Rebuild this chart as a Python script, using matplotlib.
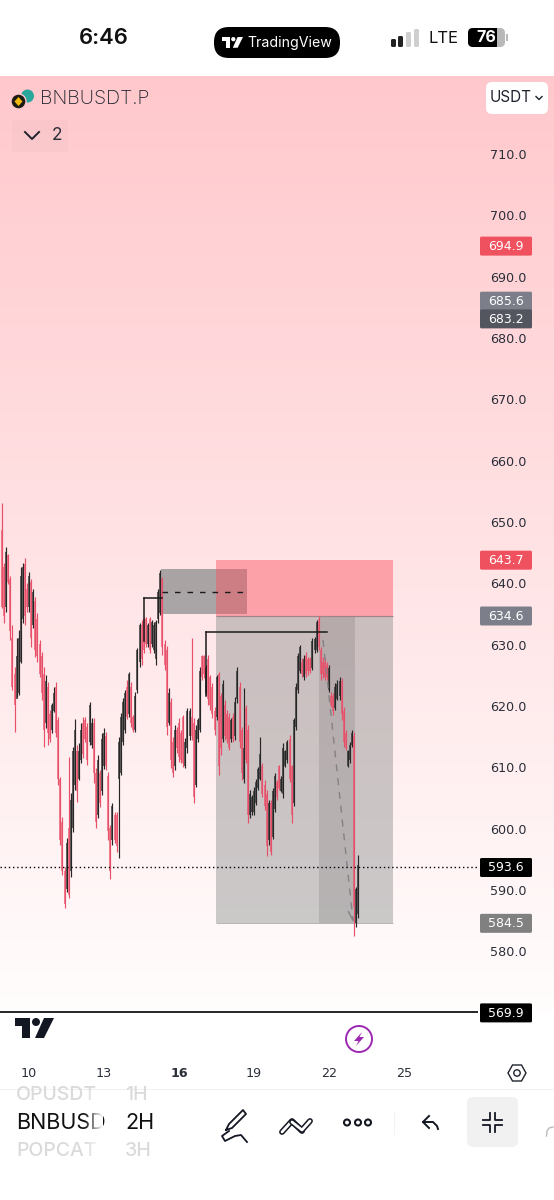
import numpy as np
import matplotlib
matplotlib.use("Agg")
import matplotlib.pyplot as plt
from matplotlib.patches import Circle, FancyBboxPatch, Polygon, Rectangle
from matplotlib.transforms import ScaledTranslation

plt.rcParams["font.family"] = ["Inter", "DejaVu Sans"]

# 2H bars
highs = [652.9, 643.1, 645.7, 644.7, 641, 633, 626.2, 630.9, 632.2, 642.5,
         643.1, 643.9, 639.9, 641.7, 640.5, 639, 637.6, 635, 630.6, 628.6,
         626.2, 624.9, 623.7, 619.2, 620.3, 622.9, 623.7, 618, 608.2, 601.7,
         593.6, 598.3, 611.5, 605.6, 613.1, 617.7, 613.5, 613.8, 617.1, 618,
         618, 617.1, 620.5, 617.9, 617.9, 609.7, 611.8, 609.4, 615.4, 616.2,
         615.6, 609.1, 600.4, 604, 602.5, 602.5, 614.8, 618.7, 621.1, 622.4,
         624.1, 625.4, 623.7, 618.4, 622.1, 629.3, 633.3, 633.8, 634.3, 634.3,
         633.3, 634.3, 633.8, 633.5, 633.8, 639, 642, 640.8, 630.6, 629.6,
         622.8, 621.1, 614.8, 616.7, 616.4, 617.9, 615.9, 618.4, 614.6, 619.5,
         619.5, 630.9, 617.9, 616.7, 617.9, 626.2, 628.1, 628.1, 626.5, 628.1,
         624.9, 623.6, 619.7, 624.9, 625.4, 622, 624.1, 620.8, 619.2, 618.7,
         617.9, 618.7, 621.3, 626.2, 623.7, 616.4, 622.8, 620, 616.7, 606.1,
         605.3, 606.6, 607.9, 609.9, 614.8, 610.5, 607.8, 606.1, 604.5, 604.5,
         606.5, 608.9, 607.8, 610.2, 608.4, 613.8, 612.7, 614.3, 615.1, 610.2,
         617.9, 623.6, 628.5, 629.8, 627.6, 628.1, 628.6, 627.8, 627.8, 630.9,
         631.1, 633.8, 634.6, 629.4, 627.8, 627.6, 627, 626.5, 622.1, 622,
         623.6, 624.1, 624.6, 624.4, 619.7, 615.9, 612.7, 614, 615.9, 615.6,
         590.3, 595.5]
lows = [635.8, 633.3, 635.1, 639.8, 630.6, 622.4, 615.6, 621.3, 621.6, 626.8,
        633.3, 633, 635.1, 635.1, 629.4, 632.5, 627.8, 627, 624.5, 620.8,
        613.1, 616.2, 613.5, 614, 615.4, 618.8, 614.8, 606.9, 597.2, 592.3,
        586.9, 589.5, 588.5, 592, 599.3, 606.1, 604.2, 607.8, 610.5, 611.3,
        614, 610.2, 613.5, 613, 607.3, 599.9, 601.6, 603.4, 605.3, 609.6,
        609.4, 598, 591.6, 597.2, 597.5, 596, 595, 608.6, 613.5, 615.4,
        617.7, 618, 616.4, 615.6, 615.6, 621.9, 626.2, 626.5, 628.5, 629.4,
        629.4, 628.5, 629.4, 628.5, 626.5, 633.3, 634.7, 628.1, 625.7, 615.1,
        616.7, 609.7, 608.2, 609.4, 612.2, 610.7, 610.5, 609.9, 609.7, 612.2,
        614.3, 614.3, 604, 606.6, 614, 615.6, 624.1, 624.4, 621.6, 620,
        619.2, 617.9, 615.1, 617.5, 608.6, 611.8, 614, 614.3, 613.8, 612.7,
        614, 614, 614.3, 620.3, 613, 607.8, 607.3, 610.5, 600.8, 601.6,
        602, 602, 603.7, 606.1, 607.8, 605, 602.9, 595.4, 597.2, 595.5,
        598.1, 602.5, 604.5, 606.1, 605.8, 604.8, 609.9, 610.5, 607.4, 600.8,
        603.5, 615.9, 621.9, 625.2, 624.5, 624.1, 624.5, 624.9, 625.2, 625.7,
        628.5, 628.6, 629, 624.1, 624.4, 624.1, 624.1, 622.1, 619.7, 618.4,
        619.2, 620.8, 620.8, 617.5, 613.1, 612.7, 609.9, 610.5, 613.1, 582.3,
        583.9, 585.3]
opens = [648.5, 642.5, 636, 644.5, 640.5, 631, 625, 621, 622, 627,
         634, 643, 639, 636, 640, 633, 637, 634, 630, 628,
         625, 617, 623, 618.5, 616, 619, 623, 617.5, 608, 601,
         593, 590, 600, 593, 600, 607, 612.5, 608, 611, 617,
         617.5, 616.5, 614, 613.5, 617, 609, 602, 609, 606, 610,
         615, 608.5, 600, 598, 602, 602, 608, 609, 614, 616,
         623, 618.5, 623, 618, 616, 622.5, 627, 633, 634, 634,
         630, 634, 630, 629, 627.5, 634, 635, 640.5, 630, 629,
         617, 620.5, 614, 610, 616, 617, 615.5, 618, 610, 613,
         615, 618, 617, 607, 614.5, 616, 628, 628, 622, 627.5,
         624.5, 623, 619, 618, 625, 621.5, 614.5, 620, 618.5, 618,
         614.5, 618, 615, 621, 623, 616, 608, 619.5, 616, 602,
         602.5, 602.5, 604, 606.5, 608, 610, 607, 605.5, 598, 604,
         598.5, 603, 607.5, 610, 606, 605.5, 610, 611, 614.5, 610,
         604, 616.5, 622.5, 625.5, 627, 624.5, 628, 627.5, 627.5, 626,
         629, 629, 634, 629, 627, 627, 626.5, 622.5, 621.5, 621.5,
         619.5, 621, 621.5, 624, 619, 615.5, 610, 611, 613.5, 615,
         584.5, 586]
closes = [636, 634.5, 645, 640, 632, 623, 620, 628, 631, 641,
          642.5, 634.5, 636, 641, 631, 638.5, 629, 628, 625, 622,
          616, 624, 615.5, 614.5, 620, 622, 615.5, 608, 598, 593,
          587.5, 597.5, 589, 604.5, 612.5, 616, 606, 612.5, 616, 612,
          614.5, 611, 620, 617, 609, 601, 611, 604, 614.5, 615.5,
          610, 599.5, 593, 603.5, 598, 597, 614, 618, 620.5, 622,
          618, 625, 617, 616, 621.5, 629, 633, 627.5, 629, 630,
          633, 629, 633.5, 633, 633.5, 638.5, 641.5, 629.5, 626.5, 616.5,
          622, 611, 609, 616, 613, 611.5, 611, 610.5, 614, 619,
          619, 615, 605, 616, 617.5, 625.5, 624.5, 625, 626, 621,
          620, 618.5, 616, 624.5, 610, 613, 623.5, 615, 614.5, 613,
          617.5, 614.5, 620.5, 625.5, 614, 609, 613, 611, 602, 605.5,
          605, 606, 607.5, 609.5, 612, 605.5, 603.5, 597, 604, 596,
          606, 608.5, 605, 606.5, 608, 613, 612.5, 614, 608, 602,
          617.5, 623, 628, 629.5, 625, 627.5, 625, 625.5, 625.5, 630.5,
          630.8, 633.5, 629.5, 625, 625, 624.5, 624.5, 626, 620, 619,
          623, 623.5, 624, 618.5, 614, 613, 612.5, 613.5, 615.5, 587,
          590, 594]

price_ticks = [710, 700, 690, 680, 670, 660, 650, 640, 630, 620, 610, 600, 590, 580]
date_ticks = [10, 13, 16, 19, 22, 25]

# labels on the price scale: value, colour, nudge in px where two would collide
price_tags = [(694.9, "#F0515F", 0), (685.6, "#7C7F8A", -2), (683.2, "#54565F", 1),
              (643.7, "#F0515F", 0), (634.6, "#7C7F8A", 0), (593.6, "#000000", 0),
              (584.5, "#808080", 0), (569.9, "#000000", 0)]

first_bar_day = 8.92
ask_top, entry, stop = 643.7, 634.6, 584.5


def main():
    fig = plt.figure(figsize=(5.54, 12), dpi=100, facecolor="white")
    ax = fig.add_axes([0, 1 - 1013 / 1200, 1, (1013 - 76) / 1200])
    ui = fig.add_axes([0, 0, 1, 1], zorder=5)
    ui.set_xlim(0, 554)
    ui.set_ylim(1200, 0)
    ui.axis("off")

    draw_chart(ax)
    draw_tags(ax, ui)
    draw_chrome(ui)
    fig.savefig("out.png", dpi=100)


def draw_chart(ax):
    day_lo, day_hi = 8.84, 31.0
    scale_edge = 27.96
    price_lo, price_hi = 569.8, 722.55

    shade = np.linspace(0, 1, 256)
    grad = np.zeros((256, 1, 3))
    grad[:, 0, 0] = 1.0
    grad[:, 0, 1] = (200 + 53 * shade) / 255
    grad[:, 0, 2] = (204 + 49 * shade) / 255
    ax.imshow(grad, extent=(day_lo, day_hi, price_lo, price_hi), aspect="auto", zorder=0)

    # position boxes, grey one goes under the red one
    ax.add_patch(Rectangle((15.28, 634.8), 3.44, 7.4, fc=(85 / 255, 100 / 255, 100 / 255), alpha=0.5, lw=0, zorder=1))
    ax.add_patch(Rectangle((17.48, stop), 7.08, entry - stop, fc=(125 / 255, 130 / 255, 130 / 255), alpha=0.4, lw=0, zorder=1))
    ax.add_patch(Rectangle((21.6, stop), 1.44, entry - stop, fc="black", alpha=0.1, lw=0, zorder=1))
    ax.add_patch(Rectangle((17.48, entry), 7.08, ask_top - entry, fc=(251 / 255, 80 / 255, 95 / 255), alpha=0.45, lw=0, zorder=1))
    ax.hlines(entry, 17.48, 24.56, color="#A08488", lw=0.9, zorder=1)
    ax.hlines(stop, 17.48, 24.56, color="#B8B2B2", lw=0.7, zorder=1)

    days = first_bar_day + np.arange(len(highs)) / 12
    colors = ["#E8506A" if c < o else "#262626" for o, c in zip(opens, closes)]
    ax.vlines(days, lows, highs, colors=colors, lw=0.85, zorder=2)
    ax.vlines(days, opens, closes, colors=colors, lw=1.25, alpha=0.8, zorder=2)

    # hand drawn levels
    ax.plot([14.6, 15.32], [637.45, 637.45], color="#1A1A1A", lw=1.1, zorder=3)
    ax.plot([14.6, 14.6], [637.45, 630.4], color="#1A1A1A", lw=1.1, zorder=3)
    ax.plot([15.32, 18.68], [638.4, 638.4], color="#1A1A1A", lw=1, ls=(0, (4, 5)), zorder=3)
    ax.plot([17.08, 21.92], [631.9, 631.9], color="#1A1A1A", lw=1.1, zorder=3)
    ax.plot([17.08, 17.08], [631.9, 621.4], color="#1A1A1A", lw=1.1, zorder=3)
    ax.plot([21.76, 22.96], [630.6, 584.9], color="#858085", lw=1, ls=(0, (5, 5)), zorder=3)
    ax.plot([22.78, 22.96], [586.3, 584.9], color="#858085", lw=1, zorder=3)

    ax.hlines(593.6, day_lo, scale_edge, color="black", lw=1, ls=(0, (1, 2)), zorder=3)
    ax.hlines(569.9, day_lo, scale_edge, color="black", lw=1.2, zorder=3, clip_on=False)

    ax.set_xlim(day_lo, day_hi)
    ax.set_ylim(price_lo, price_hi)
    for side in ax.spines.values():
        side.set_visible(False)

    ax.yaxis.tick_right()
    ax.set_yticks(price_ticks)
    ax.set_yticklabels(["%.1f" % p for p in price_ticks], family="DejaVu Sans")
    ax.tick_params(axis="y", length=0, pad=-46, labelsize=9.2, labelcolor="#2A2E39")
    ax.set_xticks(date_ticks)
    ax.set_xticklabels([str(d) for d in date_ticks], family="DejaVu Sans")
    ax.tick_params(axis="x", length=0, pad=39, labelsize=9.2, labelcolor="#2A2E39")
    down = ScaledTranslation(0, -0.75 / 72, ax.figure.dpi_scale_trans)
    for label in ax.get_yticklabels():
        label.set_transform(label.get_transform() + down)
    for label in ax.get_xticklabels():
        if label.get_text() == "16":
            label.set_fontweight("bold")


def draw_tags(ax, ui):
    fig_h = ax.figure.bbox.height
    for price, color, nudge in price_tags:
        y = fig_h - ax.transData.transform((10, price))[1] + 0.5 + nudge
        ui.add_patch(FancyBboxPatch((480, y - 9.5), 52, 19, boxstyle="round,pad=0,rounding_size=1.5", fc=color, lw=0))
        ui.text(506, y + 0.3, "%.1f" % price, color="white", fontsize=9, family="DejaVu Sans", ha="center", va="center")


def tv_logo(ui, x, y, w, color):
    k = w / 39
    ui.add_patch(Polygon([(x, y), (x + 15 * k, y), (x + 15 * k, y + 20 * k), (x + 7 * k, y + 20 * k),
                          (x + 7 * k, y + 8 * k), (x, y + 8 * k)], fc=color, lw=0))
    ui.add_patch(Circle((x + 21 * k, y + 4 * k), 4 * k, fc=color, lw=0))
    ui.add_patch(Polygon([(x + 29 * k, y), (x + 39 * k, y), (x + 29 * k, y + 20 * k), (x + 20 * k, y + 20 * k)], fc=color, lw=0))


def fade_right(ui, x0, x1, y0, y1):
    grad = np.ones((1, 32, 4))
    grad[0, :, 3] = np.linspace(0, 1, 32)
    ui.imshow(grad, extent=(x0, x1, y1, y0), aspect="auto", zorder=6)


def draw_chrome(ui):
    # status bar
    ui.text(104, 38, "6:46", fontsize=15.8, fontweight="semibold", color="#111111", ha="center", va="center")
    ui.add_patch(FancyBboxPatch((214, 27), 126, 31, boxstyle="round,pad=0,rounding_size=15", fc="black", lw=0))
    tv_logo(ui, 222, 37, 21, "white")
    ui.text(247, 42.5, "TradingView", fontsize=10.2, color="white", va="center")

    for x, top, col in [(391, 39, "#222222"), (398, 36, "#222222"), (406, 32, "#CFCFCF"), (414, 29, "#CFCFCF")]:
        ui.add_patch(FancyBboxPatch((x, top), 5, 47 - top, boxstyle="round,pad=0,rounding_size=1.5", fc=col, lw=0))
    ui.text(429, 38.5, "LTE", fontsize=12, color="#111111", va="center")
    ui.add_patch(FancyBboxPatch((468, 28), 37, 19, boxstyle="round,pad=0,rounding_size=5", fc="#B8B8B8", lw=0))
    ui.add_patch(FancyBboxPatch((468, 28), 29, 19, boxstyle="round,pad=0,rounding_size=5", fc="black", lw=0))
    ui.add_patch(Rectangle((492, 28), 5, 19, fc="black", lw=0))
    ui.add_patch(Rectangle((506, 34), 1.8, 7, fc="#B8B8B8", lw=0))
    ui.text(486, 37.5, "76", fontsize=11.5, fontweight="bold", color="white", ha="center", va="center")

    # symbol header
    ui.add_patch(Circle((27.5, 96), 6.5, fc="#2AA79B", lw=0))
    ui.add_patch(Circle((18.5, 101.5), 7.5, fc="#1E1A14", ec="#FFC8CC", lw=1))
    ui.add_patch(Polygon([(18.5, 97), (22.5, 101.5), (18.5, 106), (14.5, 101.5)], fc="#F0B90B", lw=0))
    ui.text(40, 98.5, "BNBUSDT.P", fontsize=14, fontweight="light", color="#1E222D", va="center")
    ui.add_patch(FancyBboxPatch((486, 82), 62, 32, boxstyle="round,pad=0,rounding_size=6", fc="white", lw=0))
    ui.text(490, 98, "USDT", fontsize=11, color="#1E222D", va="center")
    ui.plot([536, 539, 542], [96.5, 99.5, 96.5], color="#1E222D", lw=1)
    ui.add_patch(Rectangle((12, 120), 56, 32, fc="#B09098", alpha=0.06, lw=0))
    ui.plot([25, 32, 39], [132, 139, 132], color="#1E222D", lw=1.4)
    ui.text(57, 135.5, "2", fontsize=12.5, color="#2A2E39", ha="center", va="center")

    # chart footer
    tv_logo(ui, 15, 1018, 39, "#131722")
    ui.add_patch(Circle((359, 1039), 13, fc="none", ec="#9C27B0", lw=1.4))
    ui.add_patch(Polygon([(362, 1032), (354, 1041), (358.5, 1041), (356, 1046), (364, 1037), (359.5, 1037)], fc="#9C27B0", lw=0))
    ui.add_patch(Polygon([(508, 1073), (512.5, 1065), (521.5, 1065), (526, 1073), (521.5, 1081), (512.5, 1081)], fc="none", ec="#1E222D", lw=1))
    ui.add_patch(Circle((517, 1073), 3.2, fc="none", ec="#1E222D", lw=1))
    ui.plot([0, 554], [1089, 1089], color="#F0F0F0", lw=0.8)

    # symbol and interval pickers
    ui.text(16, 1095, "OPUSDT", fontsize=14, color="#DADADA", va="center", fontweight="medium")
    ui.text(16, 1123, "BNBUSD", fontsize=15.5, color="#111111", va="center")
    ui.text(16, 1151, "POPCAT", fontsize=14, color="#DADADA", va="center", fontweight="medium")
    fade_right(ui, 84, 103, 1090, 1162)
    ui.text(125, 1095, "1H", fontsize=14, color="#DADADA", va="center", fontweight="medium")
    ui.text(125, 1123, "2H", fontsize=15.5, color="#111111", va="center")
    ui.text(125, 1151, "3H", fontsize=14, color="#DADADA", va="center", fontweight="medium")
    ui.set_xlim(0, 554)
    ui.set_ylim(1200, 0)

    ink = "#131722"
    # pen
    ui.plot([226, 229, 243, 246, 232, 226], [1130, 1124, 1110, 1114, 1128, 1130], color=ink, lw=1.3)
    ui.plot([229, 222, 225, 235, 241, 247], [1131, 1136, 1141, 1136, 1135, 1142], color=ink, lw=1.3)
    # trend lines
    ui.plot([282, 292, 302], [1132, 1121, 1131], color=ink, lw=4.2, solid_capstyle="round")
    ui.plot([282, 292, 302], [1132, 1121, 1131], color="white", lw=2, solid_capstyle="round")
    ui.plot([292, 302, 310], [1122, 1130, 1121], color=ink, lw=4.2, solid_capstyle="round")
    ui.plot([292, 302, 310], [1122, 1130, 1121], color="white", lw=2, solid_capstyle="round")
    for x in [347, 358, 368]:
        ui.add_patch(Circle((x, 1122.5), 3, fc="none", ec=ink, lw=1.5))
    ui.plot([394, 394], [1112, 1134], color="#F2F2F2", lw=0.8)
    # undo
    ui.plot([429, 423, 429], [1116, 1122, 1128], color=ink, lw=1.4)
    ui.plot([423, 433, 437, 438], [1122, 1122, 1126, 1129], color=ink, lw=1.4)
    # collapse button
    ui.add_patch(FancyBboxPatch((467, 1097), 51, 50, boxstyle="round,pad=0,rounding_size=6", fc="#F1F1F1", lw=0))
    for sx, sy in [(-1, -1), (1, -1), (-1, 1), (1, 1)]:
        ui.plot([492.5 + sx * 9.5, 492.5 + sx * 2.5, 492.5 + sx * 2.5],
                [1122 + sy * 2.5, 1122 + sy * 2.5, 1122 + sy * 9.5], color=ink, lw=1.3)
    # next button, cut off by the screen edge
    ui.plot([553, 549, 547, 546.5], [1127, 1128, 1131, 1136], color="#BBBBBB", lw=1)
    ui.set_xlim(0, 554)
    ui.set_ylim(1200, 0)


if __name__ == '__main__':
    main()
